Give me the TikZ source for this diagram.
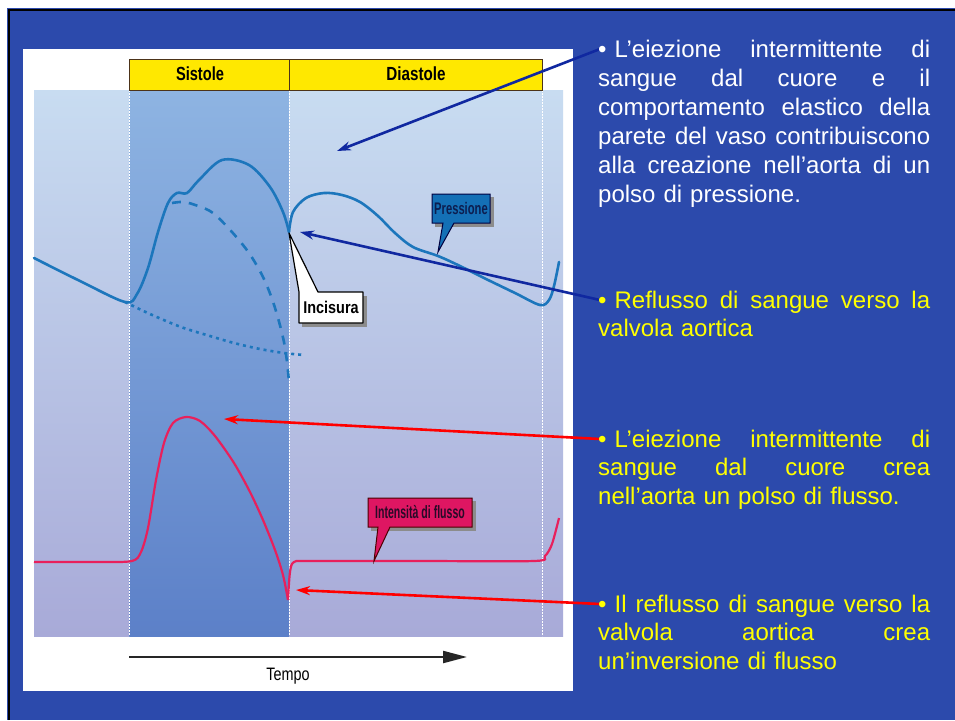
\documentclass[tikz,border=0pt]{standalone}
\usepackage{fontspec}
\setmainfont{Liberation Sans}
\usetikzlibrary{arrows.meta}

\definecolor{slide}{RGB}{44,74,172}
\definecolor{pressblue}{RGB}{28,118,188}
\definecolor{flowred}{RGB}{232,32,92}
\definecolor{phaseyellow}{RGB}{255,232,0}
\definecolor{arrowblue}{RGB}{16,40,160}
\definecolor{txtyellow}{RGB}{255,255,0}
\definecolor{tagblue}{RGB}{20,112,182}
\definecolor{tagred}{RGB}{222,22,98}

\newcommand{\fullline}[1]{\leavevmode\hbox to 332pt{#1}}

\begin{document}
\begin{tikzpicture}[x=1pt, y=-1pt,
	press/.style={draw=pressblue, line width=2.6pt, line cap=round},
	flow/.style={draw=flowred, line width=2.2pt},
	pointer/.style={line width=2.6pt, -{Stealth[length=14pt,width=9pt]}},
	phase/.style={draw=black!60!brown, fill=phaseyellow, line width=1pt},
	sep/.style={draw=white, line width=0.8pt, dash pattern=on 2pt off 1pt},
	bodytext/.style={anchor=north west, inner sep=0pt, text width=332pt, align=left, font=\fontsize{24}{28.5}\selectfont},
	tag/.style={inner sep=0pt}]
	\useasboundingbox (0,0) rectangle (955,720);
	\fill[white] (0,0) rectangle (955,720);
	\fill[slide] (7,8) rectangle (955,720);
	\draw[black, line width=2pt] (9,720) -- (9,10) -- (955,10);
	\fill[white] (23,49) rectangle (573,691);
	% chart
	\shade[top color={rgb,255:red,200;green,220;blue,241}, bottom color={rgb,255:red,168;green,170;blue,216}] (34,90) rectangle (563,636);
	\shade[top color={rgb,255:red,142;green,180;blue,226}, bottom color={rgb,255:red,92;green,128;blue,200}] (129,90) rectangle (289,636);
	\foreach \xx in {129,289,542}
		\draw[sep] (\xx,90) -- (\xx,636);
	\draw[phase] (129,59) rectangle (289,90);
	\draw[phase] (289,59) rectangle (542,90);
	\node[tag] (sist) at (200,74) {\scalebox{0.77}[1]{\bfseries\fontsize{19}{19}\selectfont Sistole}};
	\node[tag] (diast) at (416,74) {\scalebox{0.8}[1]{\bfseries\fontsize{19}{19}\selectfont Diastole}};
	% pressure
	\coordinate (inc) at (289,232);
	\coordinate (pmin) at (125,302);
	\draw[press] plot[smooth, tension=0.55] coordinates {(34,258) (80,281) (pmin) (137,294) (148,268) (158,232) (168,203) (177,193) (187,193) (199,180) (222,160) (249,165) (270,187) (283,212) (inc)};
	\draw[press] plot[smooth, tension=0.55] coordinates {(inc) (293,212) (306,198) (324,193) (342,195) (360,202) (378,216) (395,233) (413,247) (438,256) (460,266) (484,278) (515,293) (540,305) (549,300) (554,286) (559,262)};
	\draw[press, line cap=butt, dash pattern=on 9pt off 8pt] plot[smooth, tension=0.55] coordinates {(172,203) (184,202) (198,206) (213,213) (232,232) (249,253) (262,275) (271,296) (278,318) (284,342) (287,362) (289,382)};
	\draw[press, line cap=butt, dash pattern=on 3pt off 4pt] plot[smooth, tension=0.55] coordinates {(pmin) (150,314) (181,327) (210,336) (234,343) (260,349) (284,353) (304,355)};
	% flow
	\coordinate (fpeak) at (186,417);
	\coordinate (fmin) at (288,600);
	\draw[flow] plot[smooth, tension=0.5] coordinates {(34,562) (100,562) (132,561) (141,552) (148,528) (156,480) (164,443) (173,423) (fpeak) (200,421) (215,436) (234,463) (250,492) (263,520) (275,550) (283,575) (fmin)};
	\draw[flow] plot[smooth, tension=0.5] coordinates {(fmin) (290,572) (294,562) (310,561) (420,561) (534,561) (545,556) (552,544) (559,518)};
	% callouts
	\fill[black!45] (302,296) rectangle (367,327);
	\draw[fill=white, line width=1.2pt, line join=round] (289,233) -- (318,292) -- (363,292) -- (363,323) -- (299,323) -- (299,292) -- cycle;
	\node[tag] (incis) at (331,307.5) {\scalebox{0.85}[1]{\bfseries\fontsize{17}{17}\selectfont Incisura}};
	\fill[black!45] (435,197) rectangle (494,227);
	\draw[fill=tagblue, draw=black!75!blue, line width=1pt] (432,194) -- (490,194) -- (490,223) -- (454,223) -- (438,252) -- (443,223) -- (432,223) -- cycle;
	\node[tag, text={rgb,255:red,12;green,30;blue,80}] (press) at (461,208.5) {\scalebox{0.7}[1.05]{\bfseries\fontsize{16}{16}\selectfont Pressione}};
	\fill[black!45] (371,501) rectangle (476,531);
	\draw[fill=tagred, draw=black!70!red, line width=1pt] (368,498) -- (472,498) -- (472,527) -- (390,527) -- (374,561) -- (378,527) -- (368,527) -- cycle;
	\node[tag, text={rgb,255:red,40;green,10;blue,40}] (flusso) at (420,512.5) {\scalebox{0.62}[1.05]{\bfseries\fontsize{17}{17}\selectfont Intensità di flusso}};
	% time axis
	\coordinate (t0) at (129,657);
	\coordinate (t1) at (467,657);
	\draw[black!85, line width=2.2pt, -{Triangle[length=24pt,width=12pt]}] (t0) -- (t1);
	\node[tag] (tempo) at (288,676) {\scalebox{0.8}[1]{\fontsize{18}{18}\selectfont Tempo}};
	% pointers
	\coordinate (bulA) at (600,49);
	\coordinate (bulB) at (600,300);
	\coordinate (bulC) at (600,439);
	\coordinate (bulD) at (600,604);
	\coordinate (tgtA) at (337,151);
	\coordinate (tgtB) at (300,232);
	\coordinate (tgtC) at (224,419);
	\coordinate (tgtD) at (296,590);
	\draw[pointer, arrowblue] (bulA) -- (tgtA);
	\draw[pointer, arrowblue] (bulB) -- (tgtB);
	\draw[pointer, red] (bulC) -- (tgtC);
	\draw[pointer, red] (bulD) -- (tgtD);
	% texts
	\node[bodytext, text=white, font=\fontsize{24}{29}\selectfont] (txtA) at (598,36.7) {\fullline{\strut•\ L’eiezione\hfill intermittente\hfill di}\\ \fullline{sangue\hfill dal\hfill cuore\hfill e\hfill il}\\ \fullline{comportamento\hfill elastico\hfill della}\\ \fullline{parete\hfill del\hfill vaso\hfill contribuiscono}\\ \fullline{alla\hfill creazione\hfill nell’aorta\hfill di\hfill un}\\ polso di pressione.};
	\node[bodytext, text=txtyellow] (txtB) at (598,288) {\fullline{\strut•\ Reflusso\hfill di\hfill sangue\hfill verso\hfill la}\\ valvola aortica};
	\node[bodytext, text=txtyellow] (txtC) at (598,427) {\fullline{\strut•\ L’eiezione\hfill intermittente\hfill di}\\ \fullline{sangue\hfill dal\hfill cuore\hfill crea}\\ nell’aorta un polso di flusso.};
	\node[bodytext, text=txtyellow] (txtD) at (598,592) {\fullline{\strut•\ Il\hfill reflusso\hfill di\hfill sangue\hfill verso\hfill la}\\ \fullline{valvola\hfill aortica\hfill crea}\\ un’inversione di flusso};
\end{tikzpicture}
\end{document}
